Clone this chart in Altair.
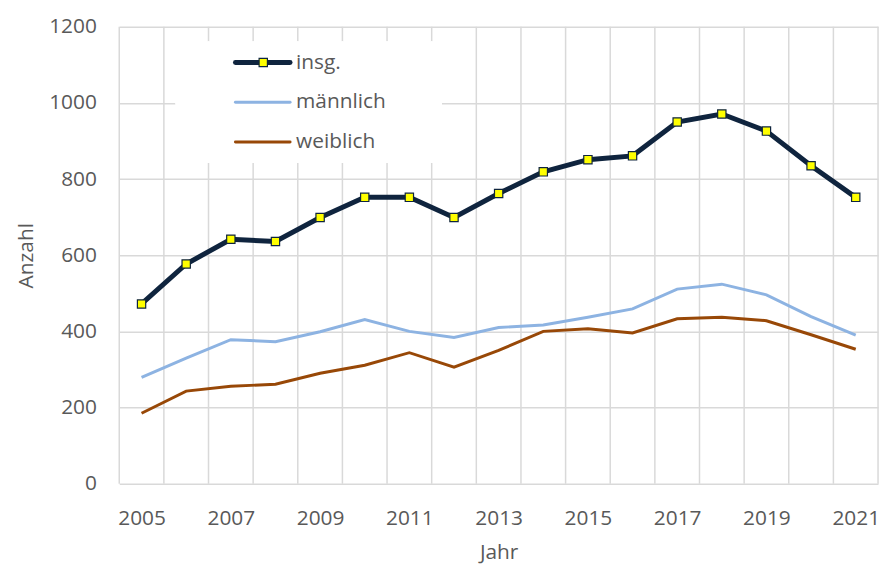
import altair as alt
import pandas as pd

years = list(range(2005, 2022))
insg = [472, 577, 642, 636, 699, 752, 752, 699, 762, 819, 851, 861, 950, 971, 926, 835, 752]
maennlich = [279, 330, 378, 373, 399, 431, 400, 384, 410, 417, 437, 459, 511, 524, 496, 439, 390]
weiblich = [185, 243, 256, 261, 290, 311, 344, 306, 350, 400, 407, 396, 433, 437, 428, 391, 353]
series_names = ["insg.", "männlich", "weiblich"]
series_colors = ["#0F243E", "#8DB3E2", "#984807"]
y_ticks = [0, 200, 400, 600, 800, 1000, 1200]
x_labels = [2005, 2007, 2009, 2011, 2013, 2015, 2017, 2019, 2021]

FONT = "Open Sans"
TXT = "#595959"
GRID = "#D9D9D9"

df = pd.DataFrame({
    "Jahr": years * 3,
    "Anzahl": insg + maennlich + weiblich,
    "Serie": [series_names[0]] * 17 + [series_names[1]] * 17 + [series_names[2]] * 17,
})
df_insg = df[df["Serie"] == "insg."]
bounds = pd.DataFrame({"b": [years[0] - 0.5 + i for i in range(len(years) + 1)]})

xscale = alt.Scale(domain=[years[0] - 0.5, years[-1] + 0.5], nice=False, zero=False)
yscale = alt.Scale(domain=[0, 1200], nice=False)
cscale = alt.Scale(domain=series_names, range=series_colors)

xaxis = alt.Axis(values=x_labels, format="d", grid=False, domain=False, ticks=False,
                 labelPadding=24, titlePadding=13, labelFontSize=21, titleFontSize=21,
                 labelColor=TXT, titleColor=TXT, labelFont=FONT, titleFont=FONT,
                 titleFontWeight="normal", labelFlush=False)
yaxis = alt.Axis(values=y_ticks, format="d", grid=True, gridColor=GRID, gridWidth=1.5,
                 domain=False, ticks=False, labelPadding=23, titlePadding=12, labelFontSize=21,
                 titleFontSize=21, labelColor=TXT, titleColor=TXT, labelFont=FONT,
                 titleFont=FONT, titleFontWeight="normal")

vgrid = alt.Chart(bounds).mark_rule(color=GRID, strokeWidth=1.5).encode(
    x=alt.X("b:Q", scale=xscale, axis=xaxis, title="Jahr")
)

legend_box = alt.Chart(bounds).mark_rect(color="white").encode(
    x=alt.value(57), x2=alt.value(325), y=alt.value(15), y2=alt.value(137)
)

def line_layer(name, width):
    return alt.Chart(df[df["Serie"] == name]).mark_line(strokeWidth=width).encode(
        x=alt.X("Jahr:Q", scale=xscale),
        y=alt.Y("Anzahl:Q", scale=yscale, axis=yaxis, title="Anzahl"),
        color=alt.Color("Serie:N", scale=cscale, legend=None),
    )

l_m = line_layer("männlich", 3)
l_w = line_layer("weiblich", 3)
l_i = line_layer("insg.", 5)
p_i = alt.Chart(df_insg).mark_point(shape="square", filled=True, fill="#FFFF00",
                                    stroke="#0F243E", strokeWidth=1.2, size=70, opacity=1).encode(
    x=alt.X("Jahr:Q", scale=xscale),
    y=alt.Y("Anzahl:Q", scale=yscale),
)

leg_layers = []
row_y = [36, 76, 116]
widths = [5, 3, 3]
for i, name in enumerate(series_names):
    ldf = pd.DataFrame({"Serie": [name]})
    leg_layers.append(alt.Chart(ldf).mark_rule(strokeWidth=widths[i], strokeCap="round",
                                               color=series_colors[i]).encode(
        x=alt.value(117), x2=alt.value(172), y=alt.value(row_y[i])))
    if i == 0:
        leg_layers.append(alt.Chart(ldf).mark_point(shape="square", filled=True, fill="#FFFF00",
                                                    stroke="#0F243E", strokeWidth=1.2, size=70,
                                                    opacity=1).encode(
            x=alt.value(145), y=alt.value(row_y[i])))
    leg_layers.append(alt.Chart(ldf).mark_text(align="left", baseline="middle", font=FONT,
                                               fontSize=21, color=TXT).encode(
        x=alt.value(178), y=alt.value(row_y[i]), text="Serie:N"))

chart = alt.layer(vgrid, legend_box, l_m, l_w, l_i, p_i, *leg_layers).properties(
    width=764, height=460,
    padding={"left": 112, "top": 17, "right": 6, "bottom": 82},
    autosize=alt.AutoSizeParams(type="none"),
).configure_view(stroke=None)

chart.save("out.html", embed_options={"renderer": "svg", "actions": False})
